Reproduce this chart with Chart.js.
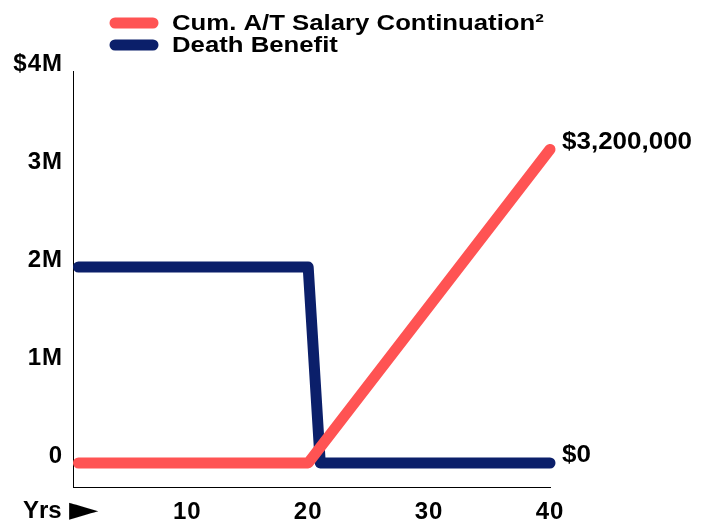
<!DOCTYPE html>
<html>
<head>
<meta charset="utf-8">
<script src="https://cdn.jsdelivr.net/npm/chart.js@4/dist/chart.umd.min.js"></script>
<style>
  html, body { margin: 0; padding: 0; background: #fff; }
  #wrap { width: 709px; height: 523px; }
</style>
</head>
<body>
<div id="wrap"><canvas id="chart"></canvas></div>
<script>
// --- Data ---
const seriesNames = ['Cum. A/T Salary Continuation²', 'Death Benefit'];
const salaryYears = [1, 20, 40];
const salaryValues = [0, 0, 3200000];
const deathYears = [1, 20, 21, 40];
const deathValues = [2000000, 2000000, 0, 0];
const xTicks = [10, 20, 30, 40];
const yTicks = [0, 1000000, 2000000, 3000000, 4000000];
const yTickLabels = ['0', '1M', '2M', '3M', '$4M'];
const endLabels = ['$3,200,000', '$0'];
const xAxisName = 'Yrs';
const xAxisArrow = '►';

const COLORS = ['#ff5353', '#0b1f6a'];
const FONT = '"Liberation Sans", Arial, sans-serif';

function toPoints(xs, ys) {
    return xs.map((x, i) => ({ x: x, y: ys[i] }));
}

// the reference text is a little wider than Liberation Sans
const spacingPlugin = {
    id: 'spacing',
    beforeInit(chart) { chart.ctx.letterSpacing = '1px'; },
    beforeDraw(chart) { chart.ctx.letterSpacing = '1px'; }
};

// stretched text helper
function wideText(ctx, text, x, y, sx) {
    ctx.save();
    ctx.translate(x, y);
    ctx.scale(sx, 1);
    ctx.fillText(text, 0, 0);
    ctx.restore();
}

// legend, end labels and "Yrs" label drawn on the canvas
const extrasPlugin = {
    id: 'extras',
    afterDraw(chart) {
        const ctx = chart.ctx;
        ctx.save();
        ctx.letterSpacing = '0px';
        // legend
        ctx.font = 'bold 22px ' + FONT;
        ctx.textBaseline = 'middle';
        ctx.textAlign = 'left';
        seriesNames.forEach((name, i) => {
            const y = 23 + i * 22;
            ctx.strokeStyle = COLORS[i];
            ctx.lineWidth = 11;
            ctx.lineCap = 'round';
            ctx.beginPath();
            ctx.moveTo(115, y);
            ctx.lineTo(153, y);
            ctx.stroke();
            ctx.fillStyle = '#000';
            wideText(ctx, name, 172, y + 1, 1.17);
        });
        // end labels
        ctx.font = 'bold 23px ' + FONT;
        chart.data.datasets.forEach((ds, i) => {
            const meta = chart.getDatasetMeta(i);
            const last = meta.data[meta.data.length - 1];
            wideText(ctx, endLabels[i], last.x + 12, last.y - 7, 1.13);
        });
        // axis name
        const xs = chart.scales.x;
        const ty = xs.top + 24;
        ctx.font = 'bold 24px ' + FONT;
        wideText(ctx, xAxisName, 23, ty, 1.0);
        ctx.font = '34px "DejaVu Sans"';
        wideText(ctx, xAxisArrow, 69, ty, 1.12);
        ctx.restore();
    }
};

new Chart(document.getElementById('chart'), {
    type: 'line',
    data: {
        datasets: [
            {
                label: seriesNames[0],
                data: toPoints(salaryYears, salaryValues),
                borderColor: COLORS[0],
                borderWidth: 11,
                borderCapStyle: 'round',
                borderJoinStyle: 'round',
                pointRadius: 0,
                tension: 0,
                clip: false,
                order: 1
            },
            {
                label: seriesNames[1],
                data: toPoints(deathYears, deathValues),
                borderColor: COLORS[1],
                borderWidth: 11,
                borderCapStyle: 'round',
                borderJoinStyle: 'round',
                pointRadius: 0,
                tension: 0,
                clip: false,
                order: 2
            }
        ]
    },
    options: {
        responsive: true,
        maintainAspectRatio: false,
        animation: false,
        layout: { padding: { top: 71, right: 159, bottom: 0, left: 0 } },
        plugins: {
            legend: { display: false },
            tooltip: { enabled: false }
        },
        scales: {
            x: {
                type: 'linear',
                min: 0.55,
                max: 40,
                afterBuildTicks: (scale) => {
                    scale.ticks = xTicks.map(v => ({ value: v }));
                },
                afterFit: (scale) => { scale.height = 36; },
                grid: { display: false, drawTicks: false },
                border: { display: true, color: '#000', width: 1 },
                ticks: {
                    color: '#000',
                    padding: 11,
                    maxRotation: 0,
                    font: { family: FONT, size: 24, weight: 'bold' }
                }
            },
            y: {
                min: -245000,
                max: 4000000,
                afterBuildTicks: (scale) => {
                    scale.ticks = yTicks.map(v => ({ value: v }));
                },
                afterFit: (scale) => { scale.width = 73; },
                grid: { display: false, drawTicks: false },
                border: { display: true, color: '#000', width: 1 },
                ticks: {
                    color: '#000',
                    padding: 10,
                    labelOffset: -7,
                    font: { family: FONT, size: 24, weight: 'bold' },
                    callback: (value) => yTickLabels[yTicks.indexOf(value)]
                }
            }
        }
    },
    plugins: [spacingPlugin, extrasPlugin]
});
</script>
</body>
</html>
